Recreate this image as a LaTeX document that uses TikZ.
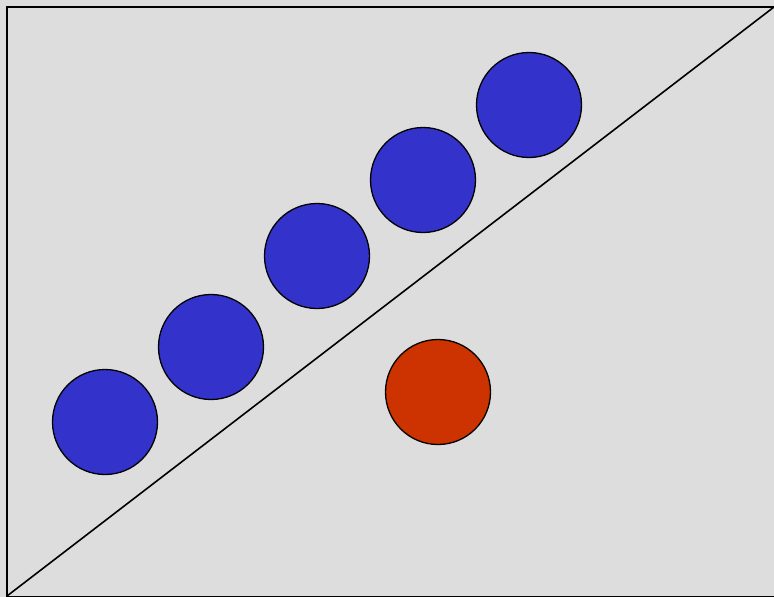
\documentclass[tikz,border=0pt]{standalone}
\definecolor{bg}{HTML}{DDDDDD}
\definecolor{blueball}{HTML}{3333CC}
\definecolor{redball}{HTML}{CC3300}
\begin{document}
\begin{tikzpicture}[x=1pt,y=-1pt,
  ball/.style={circle,draw=black,line width=1.3pt,minimum size=105pt,inner sep=0pt},
  blueb/.style={ball,fill=blueball},
  redb/.style={ball,fill=redball}]
\useasboundingbox (0,0) rectangle (774,597);
\fill[bg] (0,0) rectangle (774,597);
\draw[line width=1.6pt] (7,597) -- (7,7) -- (776,7);
\draw[line width=1.6pt] (7,596.5) -- (776,596.5);
\coordinate (dA) at (7,596);
\coordinate (dB) at (774,7);
\draw[line width=1.6pt] (dA) -- (dB);
\node[blueb] (b1) at (105,422) {};
\node[blueb] (b2) at (211,347) {};
\node[blueb] (b3) at (317,256) {};
\node[blueb] (b4) at (423,180) {};
\node[blueb] (b5) at (529,105) {};
\node[redb] (r1) at (438,392) {};
\end{tikzpicture}
\end{document}
